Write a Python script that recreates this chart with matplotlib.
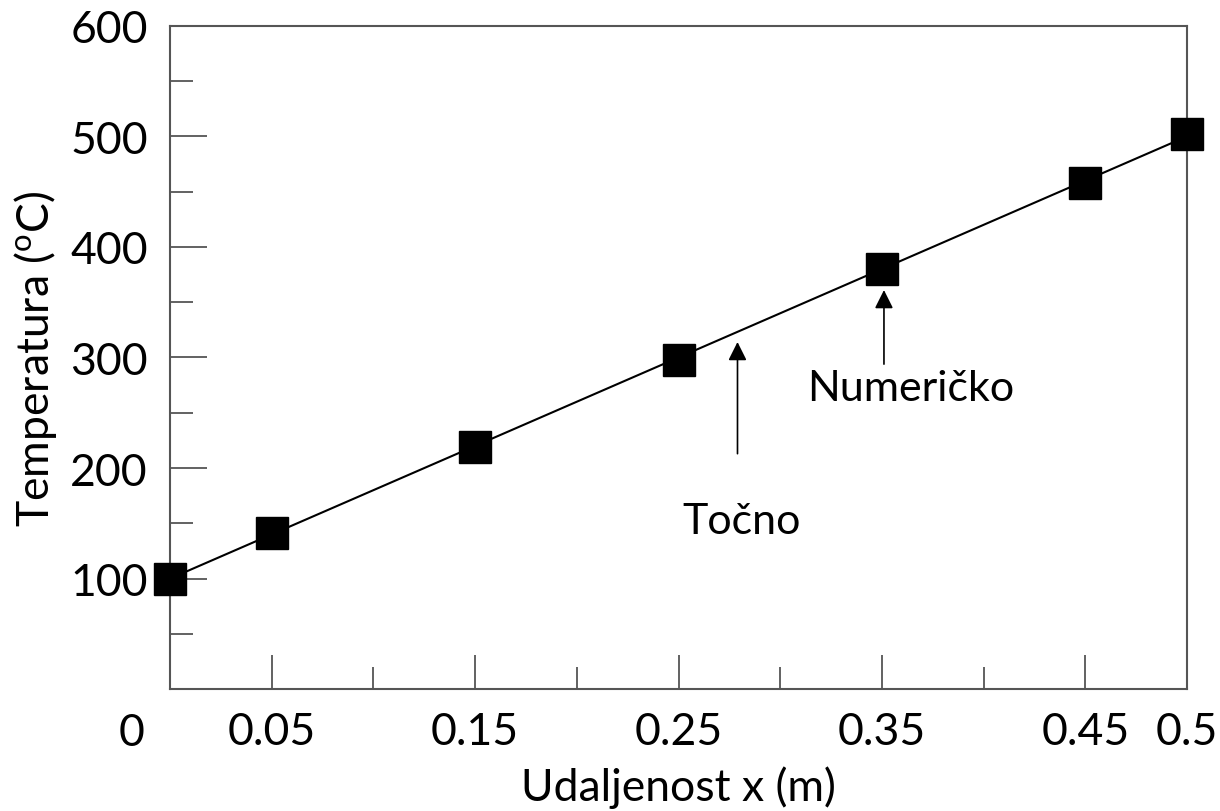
import numpy as np
import matplotlib
matplotlib.use('Agg')
import matplotlib.pyplot as plt

# Točno rješenje (pravac) i numeričke vrijednosti
x_tocno = [0.0, 0.5]
t_tocno = [100, 500]
x_num = [0.0, 0.05, 0.15, 0.25, 0.35, 0.45, 0.5]
t_num = [100, 141, 219, 298, 380, 458, 502]

x_major = [0.05, 0.15, 0.25, 0.35, 0.45, 0.5]
x_major_labels = ['0.05', '0.15', '0.25', '0.35', '0.45', '0.5']
x_minor = [0.1, 0.2, 0.3, 0.4]
y_major = [100, 200, 300, 400, 500, 600]
y_minor = [50, 150, 250, 350, 450, 550]

plt.rcParams['font.family'] = ['Lato', 'DejaVu Sans']
plt.rcParams['mathtext.fontset'] = 'custom'
plt.rcParams['mathtext.rm'] = 'Lato'

fig = plt.figure(figsize=(12.2, 8.12), dpi=100)
ax = fig.add_axes([0.1393, 0.150, 0.8337, 0.817])

ax.plot(x_tocno, t_tocno, color='black', lw=1.5, zorder=2)
ax.plot(x_num, t_num, linestyle='none', marker='s', markersize=23,
        color='black', clip_on=False, zorder=3)

ax.set_xlim(0, 0.5)
ax.set_ylim(0, 600)

ax.set_xticks(x_major)
ax.set_xticklabels(x_major_labels)
ax.set_xticks(x_minor, minor=True)
ax.set_yticks(y_major)
ax.set_yticks(y_minor, minor=True)

ax.tick_params(axis='both', which='both', direction='in', colors='#555555',
               labelcolor='black', labelsize=32, width=1.3)
ax.tick_params(axis='x', which='major', length=24.5, pad=16)
ax.tick_params(axis='x', which='minor', length=15.5)
ax.tick_params(axis='y', which='major', length=26.5, pad=16)
ax.tick_params(axis='y', which='minor', length=16.5)

for s in ax.spines.values():
    s.set_color('#555555')
    s.set_linewidth(1.5)

# oznaka "0" u kutu
ax.annotate('0', xy=(0, 0), xycoords='data', xytext=(-38, -43),
            textcoords='offset pixels', ha='center', va='center', fontsize=32)

ax.set_xlabel('Udaljenost x (m)', fontsize=32, labelpad=9)
ax.set_ylabel('Temperatura ($\\mathregular{^o}$C)', fontsize=32, labelpad=8)

arrow = dict(arrowstyle='-|>', mutation_scale=28, lw=1.2, color='black',
             shrinkA=0, shrinkB=0)
ax.annotate('', xy=(0.279, 314), xytext=(0.279, 213), arrowprops=arrow)
ax.text(0.281, 152, 'Točno', ha='center', va='center', fontsize=31)
ax.annotate('', xy=(0.351, 361), xytext=(0.351, 294), arrowprops=arrow)
ax.text(0.364, 272, 'Numeričko', ha='center', va='center', fontsize=31)

fig.savefig('out.png', dpi=100)
